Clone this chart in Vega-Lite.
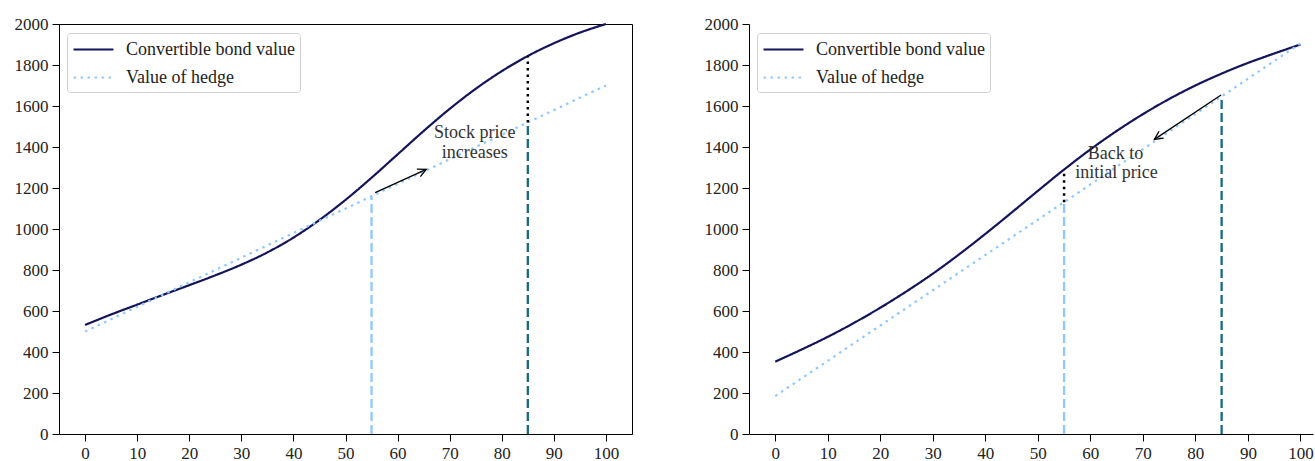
{
  "$schema": "https://vega.github.io/schema/vega-lite/v6.json",
  "background": "white",
  "padding": {"left": 13, "top": 14, "right": 0, "bottom": 0},
  "spacing": 117,
  "bounds": "flush",
  "config": {
    "font": "Liberation Serif",
    "view": {"stroke": "black", "strokeWidth": 1},
    "axis": {
      "title": null, "grid": false, "domainColor": "black", "domainWidth": 1,
      "tickColor": "black", "tickSize": 7, "tickWidth": 1, "labelPadding": 4,
      "labelFont": "Liberation Serif", "labelFontSize": 17, "labelColor": "#222",
      "labelFlush": false, "labelOverlap": false, "labelBound": false
    },
    "legend": {
      "orient": "none", "legendX": 8, "legendY": 9, "title": null,
      "symbolType": "M-1,0H3", "symbolSize": 400, "symbolStrokeWidth": 2.2,
      "labelOffset": 31, "labelFont": "Liberation Serif", "labelFontSize": 18, "labelColor": "#222", "labelLimit": 400,
      "padding": 5, "rowPadding": 7, "strokeColor": "#d0d0d0", "fillColor": "white", "cornerRadius": 3
    }
  },
  "resolve": {"legend": {"color": "independent", "strokeDash": "independent"}, "scale": {"x": "independent", "y": "independent"}},
  "hconcat": [
    {
      "width": 573, "height": 410,
      "encoding": {
        "x": {"field": "x", "type": "quantitative", "scale": {"domain": [-5, 105], "nice": false, "zero": false}, "axis": {"values": [0,10,20,30,40,50,60,70,80,90,100]}},
        "y": {"field": "y", "type": "quantitative", "scale": {"domain": [0, 2000], "nice": false}, "axis": {"values": [0,200,400,600,800,1000,1200,1400,1600,1800,2000], "format": "d"}}
      },
      "layer": [
        {
          "data": {"values": [
            {"s": "Convertible bond value", "x": 0, "y": 532}, {"s": "Convertible bond value", "x": 5, "y": 583},
            {"s": "Convertible bond value", "x": 10, "y": 631}, {"s": "Convertible bond value", "x": 15, "y": 679},
            {"s": "Convertible bond value", "x": 20, "y": 726}, {"s": "Convertible bond value", "x": 25, "y": 774},
            {"s": "Convertible bond value", "x": 30, "y": 826}, {"s": "Convertible bond value", "x": 35, "y": 886},
            {"s": "Convertible bond value", "x": 40, "y": 958}, {"s": "Convertible bond value", "x": 45, "y": 1044},
            {"s": "Convertible bond value", "x": 50, "y": 1142}, {"s": "Convertible bond value", "x": 55, "y": 1250},
            {"s": "Convertible bond value", "x": 60, "y": 1364}, {"s": "Convertible bond value", "x": 65, "y": 1478},
            {"s": "Convertible bond value", "x": 70, "y": 1586}, {"s": "Convertible bond value", "x": 75, "y": 1684},
            {"s": "Convertible bond value", "x": 80, "y": 1770}, {"s": "Convertible bond value", "x": 85, "y": 1844},
            {"s": "Convertible bond value", "x": 90, "y": 1906}, {"s": "Convertible bond value", "x": 95, "y": 1958},
            {"s": "Convertible bond value", "x": 100, "y": 2000},
            {"s": "Value of hedge", "x": 0, "y": 500}, {"s": "Value of hedge", "x": 100, "y": 1700}
          ]},
          "mark": {"type": "line", "strokeWidth": 2.2, "interpolate": "monotone"},
          "encoding": {
            "color": {"field": "s", "type": "nominal", "scale": {"domain": ["Convertible bond value", "Value of hedge"], "range": ["#14145a", "#8ec8ff"]}},
            "strokeDash": {"field": "s", "type": "nominal", "scale": {"domain": ["Convertible bond value", "Value of hedge"], "range": [[1, 0], [2.5, 4.5]]}}
          }
        },
        {
          "data": {"values": [{"x": 55, "y": 0, "y2": 1160}]},
          "mark": {"type": "rule", "color": "#8ec8ff", "strokeWidth": 2.3, "strokeDash": [9, 4]},
          "encoding": {"y2": {"field": "y2"}}
        },
        {
          "data": {"values": [{"x": 85, "y": 0, "y2": 1520}]},
          "mark": {"type": "rule", "color": "#166a82", "strokeWidth": 2.3, "strokeDash": [9, 4]},
          "encoding": {"y2": {"field": "y2"}}
        },
        {
          "data": {"values": [{"x": 85, "y": 1520, "y2": 1844}]},
          "mark": {"type": "rule", "color": "black", "strokeWidth": 2.5, "strokeDash": [2.5, 4]},
          "encoding": {"y2": {"field": "y2"}}
        },
        {
          "data": {"values": [{"x": 55.7, "y": 1177, "x2": 65.5, "y2": 1291}]},
          "mark": {"type": "rule", "color": "black", "strokeWidth": 1.3},
          "encoding": {"x2": {"field": "x2"}, "y2": {"field": "y2"}}
        },
        {
          "data": {"values": [{"x": 65.5, "y": 1291}]},
          "mark": {"type": "point", "shape": "M-0.6,1.2L0,0L0.6,1.2", "size": 196, "filled": false, "stroke": "black", "strokeWidth": 1.3, "opacity": 1, "angle": 65}
        },
        {
          "data": {"values": [{"x": 74.8, "y": 1467, "t": "Stock price"}, {"x": 74.8, "y": 1369, "t": "increases"}]},
          "mark": {"type": "text", "font": "Liberation Serif", "fontSize": 18, "color": "#333", "align": "center", "baseline": "middle"},
          "encoding": {"text": {"field": "t"}}
        }
      ]
    },
    {
      "width": 564, "height": 410,
      "view": {"stroke": null},
      "encoding": {
        "x": {"field": "x", "type": "quantitative", "scale": {"domain": [-5, 102.4], "nice": false, "zero": false}, "axis": {"values": [0,10,20,30,40,50,60,70,80,90,100]}},
        "y": {"field": "y", "type": "quantitative", "scale": {"domain": [0, 2000], "nice": false}, "axis": {"values": [0,200,400,600,800,1000,1200,1400,1600,1800,2000], "format": "d"}}
      },
      "layer": [
        {
          "data": {"values": [
            {"s": "Convertible bond value", "x": 0, "y": 353}, {"s": "Convertible bond value", "x": 5, "y": 412},
            {"s": "Convertible bond value", "x": 10, "y": 474}, {"s": "Convertible bond value", "x": 15, "y": 542},
            {"s": "Convertible bond value", "x": 20, "y": 616}, {"s": "Convertible bond value", "x": 25, "y": 696},
            {"s": "Convertible bond value", "x": 30, "y": 782}, {"s": "Convertible bond value", "x": 35, "y": 876},
            {"s": "Convertible bond value", "x": 40, "y": 976}, {"s": "Convertible bond value", "x": 45, "y": 1080},
            {"s": "Convertible bond value", "x": 50, "y": 1186}, {"s": "Convertible bond value", "x": 55, "y": 1290},
            {"s": "Convertible bond value", "x": 60, "y": 1388}, {"s": "Convertible bond value", "x": 65, "y": 1478},
            {"s": "Convertible bond value", "x": 70, "y": 1560}, {"s": "Convertible bond value", "x": 75, "y": 1634},
            {"s": "Convertible bond value", "x": 80, "y": 1700}, {"s": "Convertible bond value", "x": 85, "y": 1758},
            {"s": "Convertible bond value", "x": 90, "y": 1810}, {"s": "Convertible bond value", "x": 95, "y": 1856},
            {"s": "Convertible bond value", "x": 100, "y": 1900},
            {"s": "Value of hedge", "x": 0, "y": 185}, {"s": "Value of hedge", "x": 100, "y": 1905}
          ]},
          "mark": {"type": "line", "strokeWidth": 2.2, "interpolate": "monotone"},
          "encoding": {
            "color": {"field": "s", "type": "nominal", "scale": {"domain": ["Convertible bond value", "Value of hedge"], "range": ["#14145a", "#8ec8ff"]}},
            "strokeDash": {"field": "s", "type": "nominal", "scale": {"domain": ["Convertible bond value", "Value of hedge"], "range": [[1, 0], [2.5, 4.5]]}}
          }
        },
        {
          "mark": {"type": "rule", "color": "black", "strokeWidth": 1},
          "encoding": {"x": {"value": 0}, "x2": {"value": 564}, "y": {"datum": 2000}}
        },
        {
          "data": {"values": [{"x": 55, "y": 0, "y2": 1131}]},
          "mark": {"type": "rule", "color": "#8ec8ff", "strokeWidth": 2.3, "strokeDash": [9, 4]},
          "encoding": {"y2": {"field": "y2"}}
        },
        {
          "data": {"values": [{"x": 85, "y": 0, "y2": 1647}]},
          "mark": {"type": "rule", "color": "#166a82", "strokeWidth": 2.3, "strokeDash": [9, 4]},
          "encoding": {"y2": {"field": "y2"}}
        },
        {
          "data": {"values": [{"x": 55, "y": 1131, "y2": 1290}]},
          "mark": {"type": "rule", "color": "black", "strokeWidth": 2.5, "strokeDash": [2.5, 4]},
          "encoding": {"y2": {"field": "y2"}}
        },
        {
          "data": {"values": [{"x": 84.9, "y": 1654, "x2": 72.2, "y2": 1437}]},
          "mark": {"type": "rule", "color": "black", "strokeWidth": 1.3},
          "encoding": {"x2": {"field": "x2"}, "y2": {"field": "y2"}}
        },
        {
          "data": {"values": [{"x": 72.2, "y": 1437}]},
          "mark": {"type": "point", "shape": "M-0.6,1.2L0,0L0.6,1.2", "size": 196, "filled": false, "stroke": "black", "strokeWidth": 1.3, "opacity": 1, "angle": 236}
        },
        {
          "data": {"values": [{"x": 64.8, "y": 1366, "t": "Back to"}, {"x": 65, "y": 1272, "t": "initial price"}]},
          "mark": {"type": "text", "font": "Liberation Serif", "fontSize": 18, "color": "#333", "align": "center", "baseline": "middle"},
          "encoding": {"text": {"field": "t"}}
        }
      ]
    }
  ]
}
